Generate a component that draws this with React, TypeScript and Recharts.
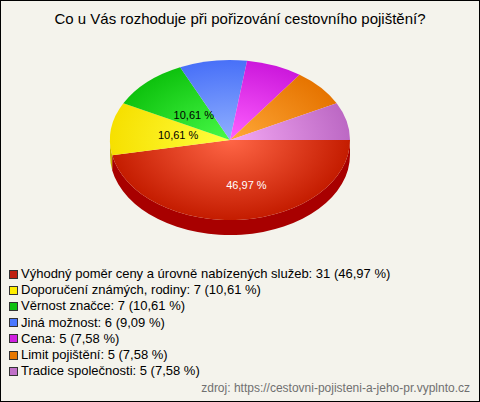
import React from 'react';
import { PieChart, Pie, Legend } from 'recharts';

const TITLE = 'Co u Vás rozhoduje při pořizování cestovního pojištění?';
const SOURCE = 'zdroj: https://cestovni-pojisteni-a-jeho-pr.vyplnto.cz';
const CATEGORIES = [
  'Výhodný poměr ceny a úrovně nabízených služeb',
  'Doporučení známých, rodiny',
  'Věrnost značce',
  'Jiná možnost',
  'Cena',
  'Limit pojištění',
  'Tradice společnosti',
];
const VALUES = [31, 7, 7, 6, 5, 5, 5];

const TOP_LIGHT = ['#ff6646', '#ffff40', '#48fa48', '#90b0ff', '#ff60ff', '#ffa838', '#f4a8f4'];
const TOP_DARK = ['#c41c00', '#f6e000', '#0ec20e', '#4870f8', '#cc18dc', '#e67400', '#bc68c4'];
const WALL = ['#a80000', '#c8b400', '#009000', '#2848c0', '#9000a0', '#b05000', '#905098'];
const LEGEND_COLORS = ['#c02010', '#ffee00', '#10c010', '#4a78ff', '#d020e0', '#e87800', '#c070c8'];
const LABEL_COLORS = ['#ffffff', '#000000', '#000000', '#000000', '#000000', '#000000', '#000000'];

const data = CATEGORIES.map((name, i) => ({ name, value: VALUES[i] }));
const TOTAL = VALUES.reduce((a, b) => a + b, 0);

const RATIO = 2 / 3;
const DEPTH = 15;
const RAD = Math.PI / 180;
const FONT = '"Liberation Sans", Arial, sans-serif';

const fmtPct = (p: number) => (p * 100).toFixed(2).replace('.', ',') + ' %';

function scr(cx: number, cy: number, rx: number, ry: number, theta: number) {
  return { x: cx + rx * Math.cos(theta * RAD), y: cy + ry * Math.sin(theta * RAD) };
}

function renderTop(props: any) {
  const { cx, cy, outerRadius, startAngle, endAngle, index } = props;
  const rx = outerRadius;
  const ry = outerRadius * RATIO;
  const t1 = Math.min(-startAngle, -endAngle);
  const t2 = Math.max(-startAngle, -endAngle);
  const p1 = scr(cx, cy, rx, ry, t1);
  const p2 = scr(cx, cy, rx, ry, t2);
  const large = t2 - t1 > 180 ? 1 : 0;
  const top = `M${cx},${cy} L${p1.x},${p1.y} A${rx},${ry} 0 ${large} 1 ${p2.x},${p2.y} Z`;
  let wall: string | null = null;
  const a = Math.max(t1, 0);
  const b = Math.min(t2, 180);
  if (b > a) {
    const w1 = scr(cx, cy, rx, ry, a);
    const w2 = scr(cx, cy, rx, ry, b);
    wall = `M${w1.x},${w1.y} A${rx},${ry} 0 0 1 ${w2.x},${w2.y} L${w2.x},${w2.y + DEPTH} A${rx},${ry} 0 0 0 ${w1.x},${w1.y + DEPTH} Z`;
  }
  const gid = `topgrad${index}`;
  return (
    <g key={`top-${index}`}>
      <defs>
        <radialGradient
          id={gid}
          gradientUnits="userSpaceOnUse"
          cx={cx}
          cy={cy}
          r={rx}
          gradientTransform={`translate(${cx} ${cy}) scale(1 ${RATIO}) translate(${-cx} ${-cy})`}
        >
          <stop offset="0" stopColor={TOP_LIGHT[index]} />
          <stop offset="1" stopColor={TOP_DARK[index]} />
        </radialGradient>
      </defs>
      {wall && <path d={wall} fill={WALL[index]} stroke="none" />}
      <path d={top} fill={`url(#${gid})`} stroke="none" />
    </g>
  );
}

function renderText(props: any) {
  const { cx, cy, outerRadius, midAngle, percent, index } = props;
  if (percent < 0.1) return <g key={`t-${index}`} />;
  const rx = outerRadius;
  const ry = outerRadius * RATIO;
  const r = 0.4 + percent * 0.35;
  const p = scr(cx, cy, rx * r, ry * r, -midAngle);
  const dx = percent > 0.3 ? 10 : 0;
  return (
    <text
      key={`t-${index}`}
      x={p.x + dx}
      y={p.y}
      fill={LABEL_COLORS[index]}
      textAnchor="middle"
      dominantBaseline="central"
      fontSize={11}
      fontFamily={FONT}
    >
      {fmtPct(percent)}
    </text>
  );
}

function LegendContent() {
  return (
    <div style={{ fontFamily: FONT, fontSize: 13, color: '#000', lineHeight: '16.2px' }}>
      {CATEGORIES.map((name, i) => {
        const v = VALUES[i];
        return (
          <div key={i} style={{ display: 'flex', alignItems: 'center', whiteSpace: 'nowrap' }}>
            <span
              style={{
                display: 'inline-block',
                width: 7,
                height: 7,
                border: '1px solid #333',
                background: LEGEND_COLORS[i],
                marginRight: 3,
              }}
            />
            <span>{`${name}: ${v} (${fmtPct(v / TOTAL)})`}</span>
          </div>
        );
      })}
    </div>
  );
}

export default function App() {
  return (
    <div
      style={{
        position: 'absolute',
        left: 0,
        top: 0,
        width: 480,
        height: 402,
        boxSizing: 'border-box',
        border: '1px solid #000',
        background: '#f4f3ec',
        overflow: 'hidden',
      }}
    >
      <div
        style={{
          position: 'absolute',
          left: 0,
          top: 9,
          width: 478,
          textAlign: 'center',
          fontFamily: FONT,
          fontSize: 15,
          color: '#000',
          zIndex: 2,
        }}
      >
        {TITLE}
      </div>
      <PieChart width={478} height={400} margin={{ top: 0, right: 0, bottom: 0, left: 0 }}>
        <Pie
          data={data}
          dataKey="value"
          nameKey="name"
          cx={229}
          cy={139}
          outerRadius={120}
          startAngle={0}
          endAngle={-360}
          fill="transparent"
          stroke="none"
          label={renderTop}
          labelLine={false}
          isAnimationActive={false}
        />
        <Pie
          data={data}
          dataKey="value"
          nameKey="name"
          cx={229}
          cy={139}
          outerRadius={120}
          startAngle={0}
          endAngle={-360}
          fill="transparent"
          stroke="none"
          legendType="none"
          label={renderText}
          labelLine={false}
          isAnimationActive={false}
        />
        <Legend
          layout="horizontal"
          verticalAlign="bottom"
          align="left"
          content={<LegendContent />}
          wrapperStyle={{ left: 8, top: 265, width: 460, bottom: 'auto' }}
        />
      </PieChart>
      <div
        style={{
          position: 'absolute',
          right: 9,
          top: 380,
          fontFamily: FONT,
          fontSize: 12,
          color: '#707070',
          whiteSpace: 'nowrap',
        }}
      >
        {SOURCE}
      </div>
    </div>
  );
}
